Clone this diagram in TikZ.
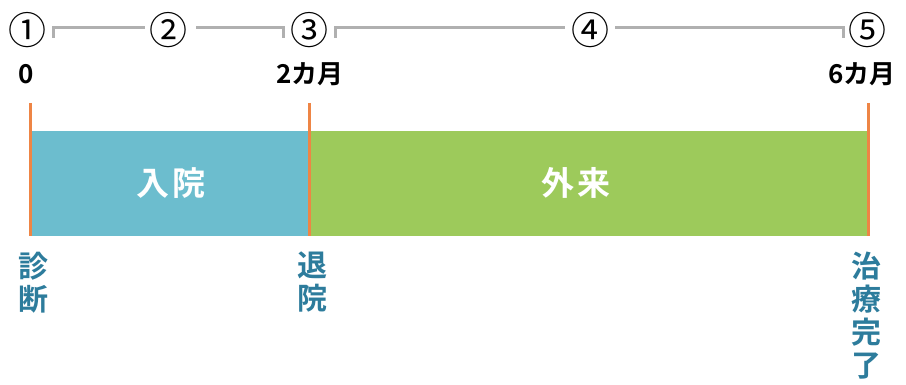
\documentclass[tikz,border=0pt]{standalone}
\usepackage{fontspec}
\newfontfamily\jp{Noto Sans CJK JP}
\newfontfamily\jpb{Noto Sans CJK JP Bold}
\definecolor{barblue}{HTML}{6CBDCE}
\definecolor{bargreen}{HTML}{9DCA5B}
\definecolor{tickorange}{HTML}{EE8545}
\definecolor{labblue}{HTML}{2D7C9C}
\definecolor{brgray}{HTML}{B0B0B0}
\tikzset{
  num/.style={font=\jp\fontsize{38}{38}\selectfont, inner sep=0pt, anchor=center},
  mon/.style={font=\jpb\fontsize{26}{26}\selectfont, inner sep=0pt, anchor=center},
  bartext/.style={font=\jpb\fontsize{33}{33}\selectfont, text=white, inner sep=0pt},
  vlab/.style={font=\jpb\fontsize{30}{33}\selectfont, text=labblue, inner sep=0pt, anchor=north, align=center},
  marker/.style={draw=tickorange, line width=3pt},
  brack/.style={draw=brgray, line width=3pt}
}
\begin{document}
\begin{tikzpicture}[x=1pt,y=-1pt]
\useasboundingbox (0,0) rectangle (906,385);
% bars
\fill[barblue] (30,131) rectangle (309,236);
\fill[bargreen] (309,131) rectangle (868,236);
\node[bartext] (nyuin) at (171,183) {入\hspace{4pt}院};
\node[bartext] (gairai) at (576,183) {外\hspace{4pt}来};
% orange markers
\coordinate (m1t) at (30,103); \coordinate (m1b) at (30,236);
\coordinate (m2t) at (309,103); \coordinate (m2b) at (309,236);
\coordinate (m3t) at (868,103); \coordinate (m3b) at (868,236);
\draw[marker] (m1t) -- (m1b);
\draw[marker] (m2t) -- (m2b);
\draw[marker] (m3t) -- (m3b);
% circled numbers
\node[num] (n1) at (28,30) {①};
\node[num] (n2) at (168,30) {②};
\node[num] (n3) at (309,30) {③};
\node[num] (n4) at (590,30) {④};
\node[num] (n5) at (867,30) {⑤};
% brackets
\coordinate (b1a) at (53,38); \coordinate (b1b) at (145,28);
\coordinate (b2a) at (196,28); \coordinate (b2b) at (283,38);
\coordinate (b3a) at (335,38); \coordinate (b3b) at (565,28);
\coordinate (b4a) at (615,28); \coordinate (b4b) at (843,38);
\draw[brack] (b1a) |- (b1b);
\draw[brack] (b2a) -| (b2b);
\draw[brack] (b3a) |- (b3b);
\draw[brack] (b4a) -| (b4b);
% months
\node[mon] (m0) at (26,74) {0};
\node[mon] (m2) at (310,74) {2カ月};
\node[mon] (m6) at (862,74) {6カ月};
% vertical labels
\node[vlab] (shindan) at (33,252) {診\\断};
\node[vlab] (taiin) at (312,252) {退\\院};
\node[vlab] (chiryo) at (866,252) {治\\療\\完\\了};
\end{tikzpicture}
\end{document}
